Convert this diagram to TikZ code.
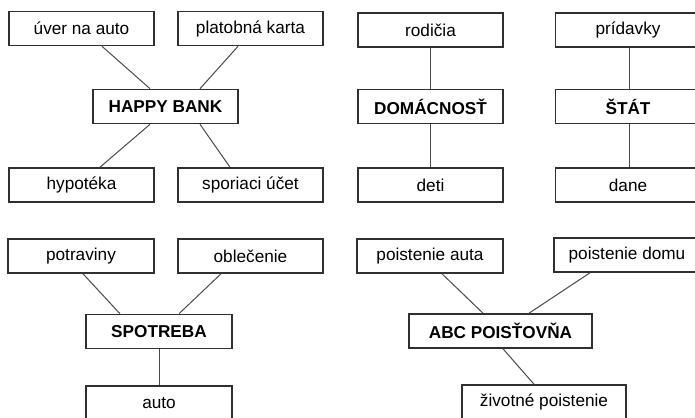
\documentclass[tikz,border=0pt]{standalone}
\usepackage{fontspec}
\setmainfont{Liberation Sans}
\begin{document}
\begin{tikzpicture}[x=1pt,y=-1pt,
  box/.style={draw=boxgray,line width=1.6pt,rectangle,minimum width=145pt,minimum height=34pt,inner sep=0pt,font=\fontsize{17.2}{20}\selectfont,text=black},
  hub/.style={box,font=\fontsize{17.2}{20}\selectfont\bfseries},
  conn/.style={draw=linegray,line width=1pt}]
\definecolor{boxgray}{HTML}{303030}
\definecolor{linegray}{HTML}{4A4A4A}
\path[use as bounding box] (0,0) rectangle (695,417);
\clip (0,0) rectangle (695,417);
\fill[white] (0,0) rectangle (695,417);
% HAPPY BANK group
\node[box] (uver) at (81.5,28.5) {úver na auto};
\node[box] (karta) at (250.5,28.5) {platobná karta};
\node[hub] (happy) at (165.5,106.5) {HAPPY BANK};
\node[box] (hypo) at (81.5,185) {hypotéka};
\node[box] (spor) at (250.5,185) {sporiaci účet};
% DOMACNOST group
\node[box] (rod) at (430.5,30) {rodičia};
\node[hub] (dom) at (430.5,106.5) {DOMÁCNOSŤ};
\node[box] (deti) at (430.5,185) {deti};
% STAT group
\node[box] (prid) at (628,30) {prídavky};
\node[hub] (stat) at (628,106.5) {ŠTÁT};
\node[box] (dane) at (628,185) {dane};
% SPOTREBA group
\node[box,minimum width=146pt] (potr) at (81,256) {potraviny};
\node[box] (obl) at (250.5,256) {oblečenie};
\node[hub,minimum width=146pt] (spot) at (159,331.5) {SPOTREBA};
\node[box,minimum width=146pt] (auto) at (159,403) {auto};
% ABC POISTOVNA group
\node[box,minimum width=146pt] (pauta) at (430,256) {poistenie auta};
\node[box,minimum width=146pt] (pdomu) at (627,255) {poistenie domu};
\node[hub,minimum width=183pt] (abc) at (500.5,331) {ABC POISŤOVŇA};
\node[box,minimum width=164pt] (ziv) at (544,402) {životné poistenie};
% connectors
\draw[conn] ([xshift=20.5pt]uver.south) -- ([xshift=-15.5pt]happy.north);
\draw[conn] ([xshift=-12.5pt]karta.south) -- ([xshift=34.5pt]happy.north);
\draw[conn] ([xshift=-15.5pt]happy.south) -- ([xshift=18.5pt]hypo.north);
\draw[conn] ([xshift=34.5pt]happy.south) -- ([xshift=-20.5pt]spor.north);
\draw[conn] (rod.south) -- (dom.north);
\draw[conn] (dom.south) -- (deti.north);
\draw[conn] ([xshift=1.5pt]prid.south) -- ([xshift=1.5pt]stat.north);
\draw[conn] ([xshift=1.5pt]stat.south) -- ([xshift=1.5pt]dane.north);
\draw[conn] ([xshift=2pt]potr.south) -- ([xshift=-39pt]spot.north);
\draw[conn] ([xshift=-29.5pt]obl.south) -- ([xshift=20pt]spot.north);
\draw[conn] (spot.south) -- (auto.north);
\draw[conn] ([xshift=12pt]pauta.south) -- ([xshift=-17.5pt]abc.north);
\draw[conn] ([xshift=-37pt]pdomu.south) -- ([xshift=28.5pt]abc.north);
\draw[conn] ([xshift=2.5pt]abc.south) -- ([xshift=-10pt]ziv.north);
\end{tikzpicture}
\end{document}
